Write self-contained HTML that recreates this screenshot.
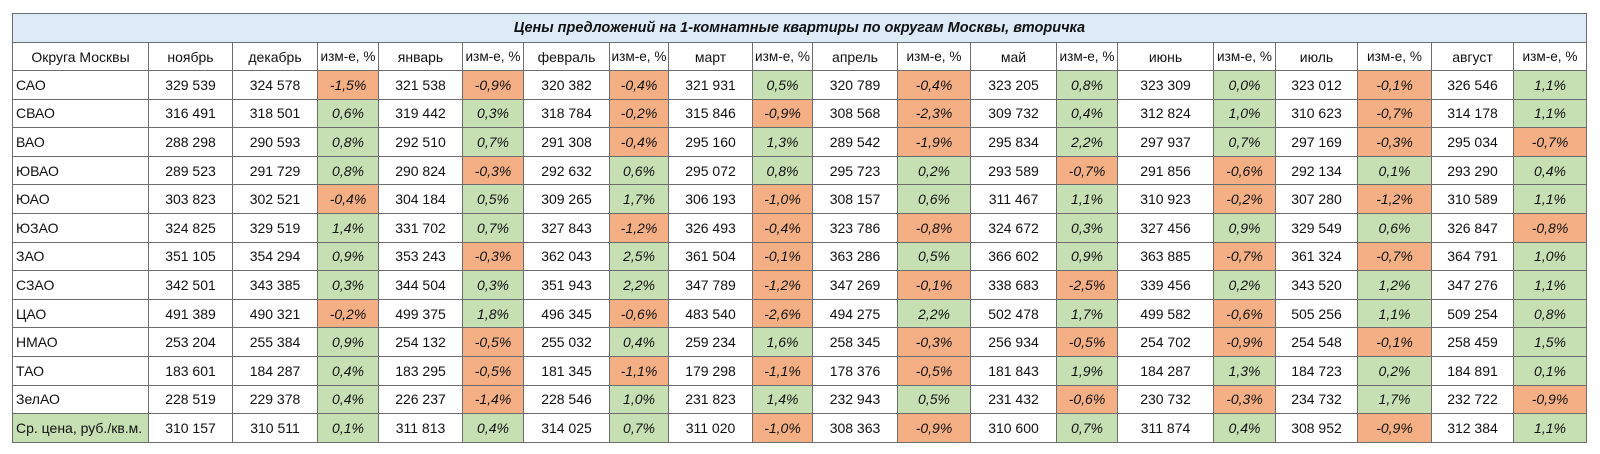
<!DOCTYPE html>
<html><head><meta charset="utf-8"><style>
html,body{margin:0;padding:0;background:#fff;width:1600px;height:454px;overflow:hidden}
#g{position:absolute;left:12px;top:13px;padding:1px;background:#6d6d6d;display:grid;gap:1px;
grid-template-columns:135px 83px 84px 60px 83px 60px 85px 58px 83px 59px 84px 72px 85px 60px 95px 61px 81px 73px 81px 72px;
grid-template-rows:28px 27px repeat(13,27.6px);
font-family:"Liberation Sans","DejaVu Sans",sans-serif;font-size:14px;color:#111}
#g div{background:#fff;display:flex;align-items:center;justify-content:center;white-space:nowrap;overflow:hidden}
#g div.t{grid-column:1 / span 20;background:#dcebf7;font-weight:bold;font-style:italic;font-size:14.5px}
#g div.l{justify-content:flex-start;padding-left:3px}
#g div.n{background:#f4b084;font-style:italic}
#g div.p{background:#c6e0b4;font-style:italic}
#g div.g{background:#c6e0b4;justify-content:flex-start;padding-left:3px}
#g div.h{font-size:13.6px}
</style></head><body>
<div id="g">
<div class="t">Цены предложений на 1-комнатные квартиры по округам Москвы, вторичка</div>
<div>Округа Москвы</div><div>ноябрь</div><div>декабрь</div><div class="h">изм-е, %</div><div>январь</div><div class="h">изм-е, %</div><div>февраль</div><div class="h">изм-е, %</div><div>март</div><div class="h">изм-е, %</div><div>апрель</div><div class="h">изм-е, %</div><div>май</div><div class="h">изм-е, %</div><div>июнь</div><div class="h">изм-е, %</div><div>июль</div><div class="h">изм-е, %</div><div>август</div><div class="h">изм-е, %</div>
<div class="l">САО</div><div>329 539</div><div>324 578</div><div class="n">-1,5%</div><div>321 538</div><div class="n">-0,9%</div><div>320 382</div><div class="n">-0,4%</div><div>321 931</div><div class="p">0,5%</div><div>320 789</div><div class="n">-0,4%</div><div>323 205</div><div class="p">0,8%</div><div>323 309</div><div class="p">0,0%</div><div>323 012</div><div class="n">-0,1%</div><div>326 546</div><div class="p">1,1%</div>
<div class="l">СВАО</div><div>316 491</div><div>318 501</div><div class="p">0,6%</div><div>319 442</div><div class="p">0,3%</div><div>318 784</div><div class="n">-0,2%</div><div>315 846</div><div class="n">-0,9%</div><div>308 568</div><div class="n">-2,3%</div><div>309 732</div><div class="p">0,4%</div><div>312 824</div><div class="p">1,0%</div><div>310 623</div><div class="n">-0,7%</div><div>314 178</div><div class="p">1,1%</div>
<div class="l">ВАО</div><div>288 298</div><div>290 593</div><div class="p">0,8%</div><div>292 510</div><div class="p">0,7%</div><div>291 308</div><div class="n">-0,4%</div><div>295 160</div><div class="p">1,3%</div><div>289 542</div><div class="n">-1,9%</div><div>295 834</div><div class="p">2,2%</div><div>297 937</div><div class="p">0,7%</div><div>297 169</div><div class="n">-0,3%</div><div>295 034</div><div class="n">-0,7%</div>
<div class="l">ЮВАО</div><div>289 523</div><div>291 729</div><div class="p">0,8%</div><div>290 824</div><div class="n">-0,3%</div><div>292 632</div><div class="p">0,6%</div><div>295 072</div><div class="p">0,8%</div><div>295 723</div><div class="p">0,2%</div><div>293 589</div><div class="n">-0,7%</div><div>291 856</div><div class="n">-0,6%</div><div>292 134</div><div class="p">0,1%</div><div>293 290</div><div class="p">0,4%</div>
<div class="l">ЮАО</div><div>303 823</div><div>302 521</div><div class="n">-0,4%</div><div>304 184</div><div class="p">0,5%</div><div>309 265</div><div class="p">1,7%</div><div>306 193</div><div class="n">-1,0%</div><div>308 157</div><div class="p">0,6%</div><div>311 467</div><div class="p">1,1%</div><div>310 923</div><div class="n">-0,2%</div><div>307 280</div><div class="n">-1,2%</div><div>310 589</div><div class="p">1,1%</div>
<div class="l">ЮЗАО</div><div>324 825</div><div>329 519</div><div class="p">1,4%</div><div>331 702</div><div class="p">0,7%</div><div>327 843</div><div class="n">-1,2%</div><div>326 493</div><div class="n">-0,4%</div><div>323 786</div><div class="n">-0,8%</div><div>324 672</div><div class="p">0,3%</div><div>327 456</div><div class="p">0,9%</div><div>329 549</div><div class="p">0,6%</div><div>326 847</div><div class="n">-0,8%</div>
<div class="l">ЗАО</div><div>351 105</div><div>354 294</div><div class="p">0,9%</div><div>353 243</div><div class="n">-0,3%</div><div>362 043</div><div class="p">2,5%</div><div>361 504</div><div class="n">-0,1%</div><div>363 286</div><div class="p">0,5%</div><div>366 602</div><div class="p">0,9%</div><div>363 885</div><div class="n">-0,7%</div><div>361 324</div><div class="n">-0,7%</div><div>364 791</div><div class="p">1,0%</div>
<div class="l">СЗАО</div><div>342 501</div><div>343 385</div><div class="p">0,3%</div><div>344 504</div><div class="p">0,3%</div><div>351 943</div><div class="p">2,2%</div><div>347 789</div><div class="n">-1,2%</div><div>347 269</div><div class="n">-0,1%</div><div>338 683</div><div class="n">-2,5%</div><div>339 456</div><div class="p">0,2%</div><div>343 520</div><div class="p">1,2%</div><div>347 276</div><div class="p">1,1%</div>
<div class="l">ЦАО</div><div>491 389</div><div>490 321</div><div class="n">-0,2%</div><div>499 375</div><div class="p">1,8%</div><div>496 345</div><div class="n">-0,6%</div><div>483 540</div><div class="n">-2,6%</div><div>494 275</div><div class="p">2,2%</div><div>502 478</div><div class="p">1,7%</div><div>499 582</div><div class="n">-0,6%</div><div>505 256</div><div class="p">1,1%</div><div>509 254</div><div class="p">0,8%</div>
<div class="l">НМАО</div><div>253 204</div><div>255 384</div><div class="p">0,9%</div><div>254 132</div><div class="n">-0,5%</div><div>255 032</div><div class="p">0,4%</div><div>259 234</div><div class="p">1,6%</div><div>258 345</div><div class="n">-0,3%</div><div>256 934</div><div class="n">-0,5%</div><div>254 702</div><div class="n">-0,9%</div><div>254 548</div><div class="n">-0,1%</div><div>258 459</div><div class="p">1,5%</div>
<div class="l">ТАО</div><div>183 601</div><div>184 287</div><div class="p">0,4%</div><div>183 295</div><div class="n">-0,5%</div><div>181 345</div><div class="n">-1,1%</div><div>179 298</div><div class="n">-1,1%</div><div>178 376</div><div class="n">-0,5%</div><div>181 843</div><div class="p">1,9%</div><div>184 287</div><div class="p">1,3%</div><div>184 723</div><div class="p">0,2%</div><div>184 891</div><div class="p">0,1%</div>
<div class="l">ЗелАО</div><div>228 519</div><div>229 378</div><div class="p">0,4%</div><div>226 237</div><div class="n">-1,4%</div><div>228 546</div><div class="p">1,0%</div><div>231 823</div><div class="p">1,4%</div><div>232 943</div><div class="p">0,5%</div><div>231 432</div><div class="n">-0,6%</div><div>230 732</div><div class="n">-0,3%</div><div>234 732</div><div class="p">1,7%</div><div>232 722</div><div class="n">-0,9%</div>
<div class="g">Ср. цена, руб./кв.м.</div><div>310 157</div><div>310 511</div><div class="p">0,1%</div><div>311 813</div><div class="p">0,4%</div><div>314 025</div><div class="p">0,7%</div><div>311 020</div><div class="n">-1,0%</div><div>308 363</div><div class="n">-0,9%</div><div>310 600</div><div class="p">0,7%</div><div>311 874</div><div class="p">0,4%</div><div>308 952</div><div class="n">-0,9%</div><div>312 384</div><div class="p">1,1%</div>
</div>
</body></html>
